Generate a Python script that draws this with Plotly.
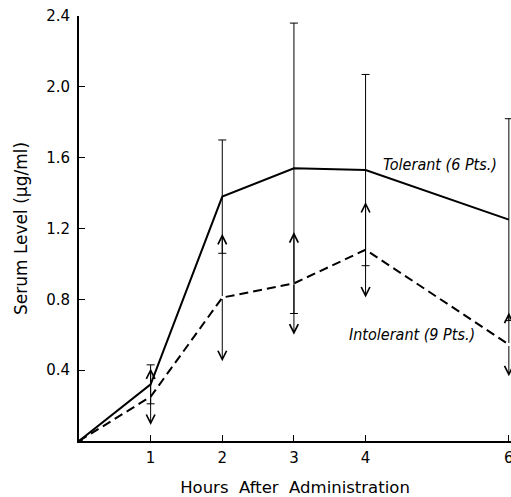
import plotly.graph_objects as go

hours = [0, 1, 2, 3, 4, 6]
tolerant_mean = [0, 0.32, 1.38, 1.54, 1.53, 1.25]
tolerant_sd = [0, 0.11, 0.32, 0.82, 0.54, 0.57]
intolerant_mean = [0, 0.25, 0.81, 0.89, 1.08, 0.545]
intolerant_sd = [0, 0.16, 0.36, 0.29, 0.27, 0.18]

x_ticks = [1, 2, 3, 4, 6]
y_ticks = [0.4, 0.8, 1.2, 1.6, 2.0, 2.4]
y_ticklabels = ["0.4", "0.8", "1.2", "1.6", "2.0", "2.4"]

FONT = "DejaVu Sans"
LABEL_FONT = "Liberation Sans Narrow, DejaVu Sans Condensed, DejaVu Sans, sans-serif"

fig = go.Figure()

fig.add_trace(go.Scatter(
    x=hours, y=tolerant_mean, mode="lines",
    line=dict(color="black", width=2),
    error_y=dict(type="data", array=[s if s > 0 else None for s in tolerant_sd],
                 symmetric=True, color="black", thickness=1, width=4, visible=True),
    cliponaxis=False, showlegend=False, hoverinfo="skip",
))
fig.add_trace(go.Scatter(
    x=hours, y=intolerant_mean, mode="lines",
    line=dict(color="black", width=2, dash="9px,5px"),
    cliponaxis=False, showlegend=False, hoverinfo="skip",
))

annotations = []
for h, m, s in zip(hours, intolerant_mean, intolerant_sd):
    if s <= 0:
        continue
    for tip in (m + s, m - s):
        annotations.append(dict(
            x=h, y=tip, ax=h, ay=m, xref="x", yref="y", axref="x", ayref="y",
            text="", showarrow=True, arrowhead=5, arrowsize=1.7, arrowwidth=1,
            arrowcolor="black", standoff=0, startstandoff=0,
        ))

annotations.append(dict(
    x=5.04, y=1.562, xref="x", yref="y", text="<i>Tolerant (6 Pts.)</i>",
    showarrow=False, xanchor="center", yanchor="middle",
    font=dict(family=LABEL_FONT, size=16, color="black"),
))
annotations.append(dict(
    x=4.644, y=0.602, xref="x", yref="y", text="<i>Intolerant (9 Pts.)</i>",
    showarrow=False, xanchor="center", yanchor="middle",
    font=dict(family=LABEL_FONT, size=16, color="black"),
))

fig.update_layout(
    width=511, height=497,
    margin=dict(l=79, r=0, t=16, b=56, autoexpand=False),
    paper_bgcolor="white", plot_bgcolor="white",
    font=dict(family=FONT, size=14, color="black"),
    annotations=annotations,
    xaxis=dict(
        range=[0, 6.03], tickvals=x_ticks, ticktext=[str(t) for t in x_ticks],
        ticks="inside", ticklen=6, tickwidth=1, tickcolor="black",
        showline=True, linecolor="black", linewidth=2,
        showgrid=False, zeroline=False, automargin=False,
        ticklabelstandoff=2, ticklabeloverflow="allow",
        title=dict(text="Hours  After  Administration", standoff=20,
                   font=dict(family=FONT, size=16.5)),
        tickfont=dict(family=FONT, size=15),
    ),
    yaxis=dict(
        range=[0, 2.4], tickvals=y_ticks, ticktext=y_ticklabels,
        ticks="inside", ticklen=6, tickwidth=1, tickcolor="black",
        showline=True, linecolor="black", linewidth=2,
        showgrid=False, zeroline=False, automargin=False,
        ticklabelstandoff=4,
        title=dict(text="Serum Level (μg/ml)", standoff=14,
                   font=dict(family=FONT, size=17)),
        tickfont=dict(family=FONT, size=15),
    ),
)

fig.write_html("out.html", config={"displayModeBar": False},
               post_script="document.body.style.margin='0';document.body.style.overflow='hidden';")
